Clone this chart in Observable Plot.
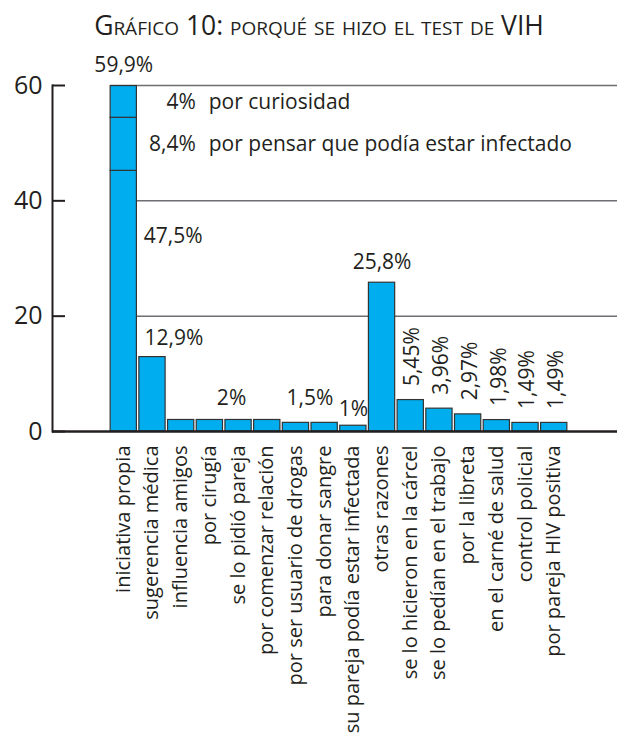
<!DOCTYPE html>
<html><head><meta charset="utf-8">
<script src="https://cdn.jsdelivr.net/npm/d3@7"></script>
<script src="https://cdn.jsdelivr.net/npm/@observablehq/plot@0.6"></script>
<style>
body{margin:0;background:#fff;font-family:"Open Sans",sans-serif;color:#231f20;}
#title{height:40px;box-sizing:border-box;padding-top:13px;padding-left:21px;width:617px;text-align:center;font-size:26.5px;line-height:24px;font-variant:small-caps;white-space:nowrap;}
#chart svg{display:block;}
</style></head><body>
<div id="title">Gráfico 10: porqué se hizo el test de VIH</div>
<div id="chart"></div>
<script>
const categories = ["iniciativa propia","sugerencia médica","influencia amigos","por cirugía","se lo pidió pareja","por comenzar relación","por ser usuario de drogas","para donar sangre","su pareja podía estar infectada","otras razones","se lo hicieron en la cárcel","se lo pedían en el trabajo","por la libreta","en el carné de salud","control policial","por pareja HIV positiva"];
const values = [59.9,12.9,2,2,2,2,1.5,1.5,1,25.8,5.45,3.96,2.97,1.98,1.49,1.49];
const valueLabels = ["59,9%","12,9%","2%","2%","2%","2%","1,5%","1,5%","1%","25,8%","5,45%","3,96%","2,97%","1,98%","1,49%","1,49%"];
// first bar split (bottom to top), heights as drawn
const partValues = [45.2, 9.2, 5.5];
const partLabels = ["47,5%","8,4%","4%"];
const partNotes = ["","por pensar que podía estar infectado","por curiosidad"];
const yTicks = [0,20,40,60];

const W = 617, H = 706, mL = 52, mR = 0, mT = 45, mB = 315;
const fill = "#00aeef", edge = "#333333", ink = "#231f20";

let acc = 0;
const parts = partValues.map((v, i) => { const p = {cat: categories[0], y1: acc, y2: acc + v, label: partLabels[i], note: partNotes[i]}; acc += v; return p; });
const rest = categories.map((c, i) => ({cat: c, v: values[i], label: valueLabels[i], i})).slice(1);
const first = {cat: categories[0], v: values[0], label: valueLabels[0]};

const lbl = (d, opts) => Plot.text([d], {x: "cat", y: "v", text: "label", fontSize: 21, lineAnchor: "bottom", ...opts});

const chart = Plot.plot({
  width: W, height: H, marginLeft: mL, marginRight: mR, marginTop: mT, marginBottom: mB,
  style: {fontFamily: '"Open Sans", sans-serif', color: ink, background: "#fff"},
  x: {domain: categories, range: [109, 568], paddingInner: 0.085, paddingOuter: 0.04, round: false, axis: null},
  y: {domain: [0, 60], axis: null},
  marks: [
    Plot.ruleY(yTicks.filter(d => d > 0), {y: d => d, x1: () => categories[0], x2: null, stroke: "#6d6e71", strokeWidth: 1.5}),
    Plot.barY(rest, {x: "cat", y: "v", fill, stroke: edge, strokeWidth: 1.2}),
    Plot.barY(parts, {x: "cat", y1: "y1", y2: "y2", fill, stroke: edge, strokeWidth: 1.2}),
    Plot.ruleY(yTicks, {y: d => d, stroke: ink, strokeWidth: 2, insetRight: W - mL - mR - 13}),
    Plot.ruleY([0], {y: d => d, stroke: ink, strokeWidth: 2.5}),
    Plot.frame({anchor: "left", stroke: ink, strokeWidth: 2}),
    Plot.axisY(yTicks, {tickSize: 0, tickPadding: 10, fontSize: 25, label: null}),
    // first bar annotations
    lbl(first, {dy: -14}),
    Plot.text(parts.slice(1), {x: "cat", y: d => (d.y1 + d.y2) / 2, text: "label", textAnchor: "end", dx: 72, fontSize: 21}),
    Plot.text(parts.slice(1), {x: "cat", y: d => (d.y1 + d.y2) / 2, text: "note", textAnchor: "start", dx: 85, fontSize: 21}),
    Plot.text(parts.slice(0, 1), {x: "cat", y: "y2", text: "label", textAnchor: "start", dx: 20, dy: 65, fontSize: 21}),
    // other value labels
    lbl(rest[0], {textAnchor: "start", dx: -8, dy: -12}),
    lbl(rest[3], {dx: -7, dy: -15}),
    lbl(rest[5], {dx: 14, dy: -18}),
    lbl(rest[7], {dy: -10}),
    lbl(rest[8], {dy: -14}),
    Plot.text(rest.slice(9), {x: "cat", y: "v", text: "label", rotate: -90, textAnchor: "start", dx: 2, dy: -14, fontSize: 21}),
    // category labels
    Plot.text(categories, {x: d => d, frameAnchor: "bottom", text: d => d, rotate: -90, textAnchor: "end", dx: 6, dy: 14, fontSize: 20})
  ]
});
document.getElementById("chart").append(chart);
</script>
</body></html>
